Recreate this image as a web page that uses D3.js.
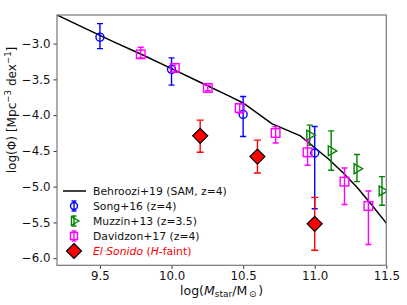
<!DOCTYPE html>
<html><head><meta charset="utf-8">
<script src="https://cdn.jsdelivr.net/npm/d3@7"></script>
<style>body{margin:0;background:#fff;} text{font-family:"DejaVu Sans",sans-serif;}</style>
</head><body>
<svg id="c" width="407" height="305"></svg>
<script>
// Behroozi+19 model line
const behX = [9.2, 9.4, 9.6, 9.8, 10.0, 10.2, 10.4, 10.5, 10.7, 10.9, 11.1, 11.2, 11.3, 11.4, 11.5];
const behY = [-2.6, -2.79, -2.98, -3.16, -3.35, -3.54, -3.73, -3.83, -4.12, -4.29, -4.62, -4.81, -5.02, -5.26, -5.51];
// Song+16
const songX = [9.5, 10.0, 10.5, 11.0];
const songY = [-2.91, -3.36, -3.99, -4.53];
const songLo = [-3.07, -3.58, -4.30, -5.31];
const songHi = [-2.72, -3.20, -3.74, -4.16];
// Muzzin+13
const muzX = [10.965, 11.115, 11.295, 11.47];
const muzY = [-4.28, -4.50, -4.75, -5.06];
const muzLo = [-4.42, -4.77, -4.93, -5.26];
const muzHi = [-4.14, -4.22, -4.55, -4.86];
// Davidzon+17
const davX = [9.785, 10.023, 10.253, 10.476, 10.727, 10.95, 11.208, 11.375];
const davY = [-3.15, -3.34, -3.62, -3.90, -4.25, -4.52, -4.93, -5.27];
const davLo = [-3.20, -3.40, -3.66, -3.97, -4.39, -4.70, -5.25, -5.81];
const davHi = [-3.05, -3.28, -3.58, -3.84, -4.16, -4.35, -4.74, -5.06];
// El Sonido
const elsX = [10.2, 10.6, 11.0];
const elsY = [-4.29, -4.58, -5.52];
const elsLo = [-4.52, -4.81, -5.89];
const elsHi = [-4.07, -4.35, -5.15];

const xTicks = [9.5, 10.0, 10.5, 11.0, 11.5];
const yTicks = [-3.0, -3.5, -4.0, -4.5, -5.0, -5.5, -6.0];

const m = {l: 57, r: 386.3, t: 15, b: 265.3};
const svg = d3.select("#c");
const x = d3.scaleLinear().domain([9.2, 11.5]).range([m.l, m.r]);
const y = d3.scaleLinear().domain([-2.6, -6.1]).range([m.t, m.b]);

const fmt = d => d3.format(".1f")(d).replace("-", "\u2212");

svg.append("clipPath").attr("id", "clp").append("rect")
  .attr("x", m.l).attr("y", m.t).attr("width", m.r - m.l).attr("height", m.b - m.t);

const plot = svg.append("g").attr("clip-path", "url(#clp)");

// Behroozi line
plot.append("path")
  .datum(behX.map((d, i) => [d, behY[i]]))
  .attr("d", d3.line().x(d => x(d[0])).y(d => y(d[1])))
  .attr("fill", "none").attr("stroke", "#000").attr("stroke-width", 1.5);

function errbars(g, xs, lo, hi, color, cap) {
  xs.forEach((xv, i) => {
    g.append("line").attr("x1", x(xv)).attr("x2", x(xv)).attr("y1", y(lo[i])).attr("y2", y(hi[i]))
      .attr("stroke", color).attr("stroke-width", 1.4);
    [lo[i], hi[i]].forEach(v => {
      g.append("line").attr("x1", x(xv) - cap).attr("x2", x(xv) + cap).attr("y1", y(v)).attr("y2", y(v))
        .attr("stroke", color).attr("stroke-width", 1.4);
    });
  });
}

// Song
const gS = plot.append("g");
errbars(gS, songX, songLo, songHi, "#0000ff", 3);
songX.forEach((xv, i) => gS.append("circle").attr("cx", x(xv)).attr("cy", y(songY[i])).attr("r", 4)
  .attr("fill", "none").attr("stroke", "#0000ff").attr("stroke-width", 1.4));

// Muzzin
const tri = d3.symbol().type(d3.symbolTriangle).size(42)();
const gM = plot.append("g");
errbars(gM, muzX, muzLo, muzHi, "#008000", 3);
muzX.forEach((xv, i) => gM.append("path").attr("d", tri)
  .attr("transform", `translate(${x(xv)},${y(muzY[i])}) rotate(90)`)
  .attr("fill", "none").attr("stroke", "#008000").attr("stroke-width", 1.4));

// Davidzon
const gD = plot.append("g");
errbars(gD, davX, davLo, davHi, "#ff00ff", 3);
davX.forEach((xv, i) => gD.append("rect").attr("x", x(xv) - 4.3).attr("y", y(davY[i]) - 4.3)
  .attr("width", 8.6).attr("height", 8.6)
  .attr("fill", "none").attr("stroke", "#ff00ff").attr("stroke-width", 1.4));

// El Sonido
const gE = plot.append("g");
errbars(gE, elsX, elsLo, elsHi, "#ff0000", 3.5);
const dia = "M0,-7.5L7.5,0L0,7.5L-7.5,0Z";
elsX.forEach((xv, i) => gE.append("path").attr("d", dia)
  .attr("transform", `translate(${x(xv)},${y(elsY[i])})`)
  .attr("fill", "#ff0000").attr("stroke", "#000").attr("stroke-width", 1.2));

// Axes
const xAx = svg.append("g").attr("transform", `translate(0,${m.b})`)
  .call(d3.axisBottom(x).tickValues(xTicks).tickFormat(fmt).tickSize(3.5).tickPadding(3));
const yAx = svg.append("g").attr("transform", `translate(${m.l},0)`)
  .call(d3.axisLeft(y).tickValues(yTicks).tickFormat(fmt).tickSize(3.5).tickPadding(3));
[xAx, yAx].forEach(a => {
  a.select(".domain").remove();
  a.selectAll("line").attr("stroke", "#333");
  a.selectAll("text").attr("font-size", 11.8).attr("fill", "#111").attr("font-family", "DejaVu Sans");
});
svg.append("rect").attr("x", m.l).attr("y", m.t).attr("width", m.r - m.l).attr("height", m.b - m.t)
  .attr("fill", "none").attr("stroke", "#777").attr("stroke-width", 1.2);

// Axis labels
const xl = svg.append("text").attr("x", (m.l + m.r) / 2).attr("y", 294.5).attr("text-anchor", "middle")
  .attr("font-size", 12.5).attr("fill", "#111");
xl.append("tspan").text("log(");
xl.append("tspan").attr("font-style", "italic").text("M");
xl.append("tspan").attr("font-size", 9).attr("dy", 2).text("star");
xl.append("tspan").attr("dy", -2).text("/M");
xl.append("tspan").attr("font-size", 9).attr("dy", 2).text("\u2009\u2299\u2009");
xl.append("tspan").attr("dy", -2).text(")");

const yl = svg.append("text").attr("transform", `translate(15.5,110) rotate(-90)`)
  .attr("text-anchor", "middle").attr("font-size", 12.1).attr("fill", "#111");
yl.append("tspan").text("log(\u03a6) [Mpc");
yl.append("tspan").attr("font-size", 8.6).attr("dy", -4.5).text("\u22123");
yl.append("tspan").attr("dy", 4.5).text(" dex");
yl.append("tspan").attr("font-size", 8.6).attr("dy", -4.5).text("\u22121");
yl.append("tspan").attr("dy", 4.5).text("]");

// Legend
const legNames = ["Behroozi+19 (SAM, z=4)", "Song+16 (z=4)", "Muzzin+13 (z=3.5)", "Davidzon+17 (z=4)"];
const legY0 = 191, legDy = 15, hx = 74, tx = 93;
const leg = svg.append("g");
legNames.forEach((n, i) => {
  leg.append("text").attr("x", tx).attr("y", legY0 + i * legDy).attr("dy", "0.35em")
    .attr("font-size", 10.8).attr("fill", "#111").text(n);
});
leg.append("line").attr("x1", 63).attr("x2", 86).attr("y1", legY0).attr("y2", legY0)
  .attr("stroke", "#000").attr("stroke-width", 1.5);
function legErr(yc, color) {
  leg.append("line").attr("x1", hx).attr("x2", hx).attr("y1", yc - 5).attr("y2", yc + 5).attr("stroke", color).attr("stroke-width", 1.4);
  [yc - 5, yc + 5].forEach(v => leg.append("line").attr("x1", hx - 2.5).attr("x2", hx + 2.5).attr("y1", v).attr("y2", v).attr("stroke", color).attr("stroke-width", 1.4));
}
let yc = legY0 + legDy;
legErr(yc, "#0000ff");
leg.append("circle").attr("cx", hx).attr("cy", yc).attr("r", 3.5).attr("fill", "none").attr("stroke", "#0000ff").attr("stroke-width", 1.4);
yc += legDy;
legErr(yc, "#008000");
leg.append("path").attr("d", d3.symbol().type(d3.symbolTriangle).size(32)()).attr("transform", `translate(${hx},${yc}) rotate(90)`)
  .attr("fill", "none").attr("stroke", "#008000").attr("stroke-width", 1.4);
yc += legDy;
legErr(yc, "#ff00ff");
leg.append("rect").attr("x", hx - 3.5).attr("y", yc - 3.5).attr("width", 7).attr("height", 7).attr("fill", "none").attr("stroke", "#ff00ff").attr("stroke-width", 1.4);
yc += legDy;
leg.append("path").attr("d", dia).attr("transform", `translate(${hx},${yc})`).attr("fill", "#ff0000").attr("stroke", "#000").attr("stroke-width", 1.2);
const et = leg.append("text").attr("x", tx).attr("y", yc).attr("dy", "0.35em").attr("font-size", 10.8).attr("fill", "#ff0000");
et.append("tspan").attr("font-style", "italic").text("El Sonido");
et.append("tspan").text(" (");
et.append("tspan").attr("font-style", "italic").text("H");
et.append("tspan").text("-faint)");
</script>
</body></html>
